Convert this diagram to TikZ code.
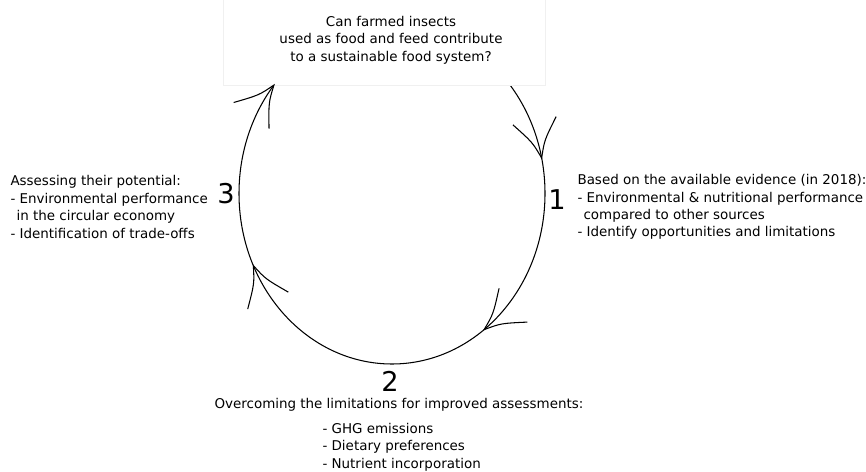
\documentclass[tikz,border=0pt]{standalone}
\usepackage{fontspec}
\setmainfont{DejaVu Sans}
\usetikzlibrary{calc}

\tikzset{
  txt/.style={font=\fontsize{7.65}{9.9}\selectfont, align=left, inner sep=0pt},
  num/.style={font=\fontsize{15.5}{16}\selectfont, inner sep=0pt},
  tiphead/.pic={\draw (-0.76,0.44) .. controls (-0.34,0.12) .. (0,0) .. controls (-0.34,-0.12) .. (-0.76,-0.44);}
}

\begin{document}
\begin{tikzpicture}[line width=0.6pt]
  \useasboundingbox (0,0) rectangle (17.32,9.44);
  % Cycle
  \coordinate (c) at (7.84,5.57);
  \draw (c) ellipse[x radius=3.06, y radius=3.41];
  % Question box
  \fill[white] (4.46,7.74) rectangle (10.90,9.6);
  \draw[black!6, line width=0.4pt] (4.46,9.6) -- (4.46,7.74) -- (10.90,7.74) -- (10.90,9.6);
  \node[txt, align=center] (question) at (7.82,8.64) {Can farmed insects\\used as food and feed contribute\\to a sustainable food system?};
  % Arrow heads along the cycle
  \coordinate (tip1) at ($(c)+(12:3.06cm and 3.41cm)$);
  \coordinate (tip2) at ($(c)+(-53:3.06cm and 3.41cm)$);
  \coordinate (tip3) at ($(c)+(-155:3.06cm and 3.41cm)$);
  \coordinate (tip4) at ($(c)+(140.5:3.06cm and 3.41cm)$);
  \pic[rotate=-79.2] at (tip1) {tiphead};
  \pic[rotate=220] at (tip2) {tiphead};
  \pic[rotate=112.7] at (tip3) {tiphead};
  \pic[rotate=53.5] at (tip4) {tiphead};
  % Step numbers
  \node[num] (n1) at (11.14,5.44) {1};
  \node[num] (n2) at (7.80,1.82) {2};
  \node[num] (n3) at (4.52,5.56) {3};
  % Step texts
  \node[txt, anchor=west] (step1) at (11.54,5.30) {Based on the available evidence (in 2018):\\- Environmental \& nutritional performance\\\hspace{0.45em}compared to other sources\\- Identify opportunities and limitations};
  \node[txt, align=center] (step2) at (7.98,1.34) {Overcoming the limitations for improved assessments:};
  \node[txt, anchor=west] (limits) at (6.44,0.50) {- GHG emissions\\- Dietary preferences\\- Nutrient incorporation};
  \node[txt, anchor=west] (step3) at (0.20,5.30) {Assessing their potential:\\- Environmental performance\\\hspace{0.45em}in the circular economy\\- Identification of trade-offs};
\end{tikzpicture}
\end{document}
